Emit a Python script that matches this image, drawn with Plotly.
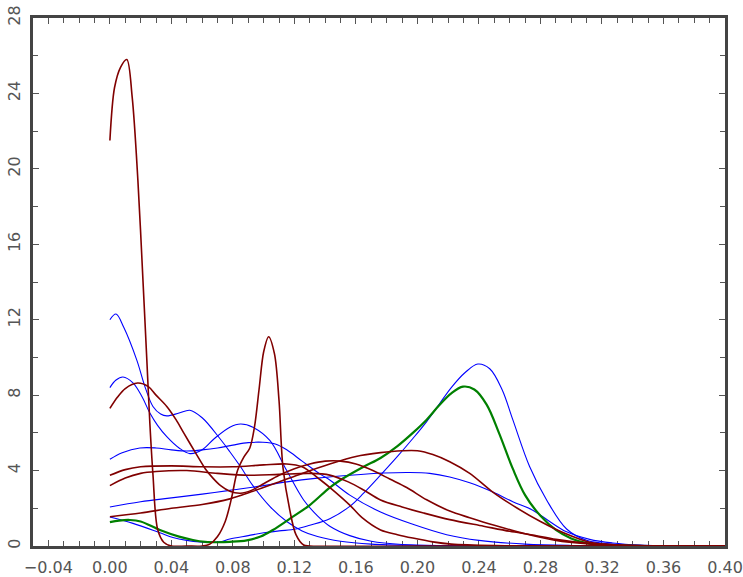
import plotly.graph_objects as go

# ---- data ----
r1_x = [0, 0.003, 0.007, 0.011, 0.0145, 0.0182, 0.0215, 0.024, 0.026, 0.028, 0.031, 0.035, 0.04, 0.05, 0.06, 0.065,
        0.07, 0.075, 0.079, 0.083, 0.087, 0.091, 0.094, 0.097, 0.1, 0.1032, 0.107, 0.11, 0.1125, 0.117, 0.121, 0.126,
        0.13, 0.2, 0.3, 0.4]
r1_y = [21.5, 24.3, 25.4, 25.8, 23.8, 19.4, 14.1, 9.9, 6.5, 3.8, 0.9, 0.2, 0, 0, 0, 0.1,
        0.5, 1.3, 2.5, 4.0, 4.7, 5.2, 6.3, 8.3, 10.3, 11.1, 10.2, 7.7, 4.2, 1.9, 0.6, 0.05,
        0, 0, 0, 0]

r2_x = [0, 0.005, 0.01, 0.018, 0.025, 0.03, 0.037, 0.043, 0.048, 0.056, 0.062, 0.067, 0.072, 0.078, 0.085, 0.092,
        0.1, 0.11, 0.12, 0.13, 0.14, 0.15, 0.16, 0.171, 0.182, 0.193, 0.206, 0.221, 0.234, 0.25, 0.27, 0.29, 0.31,
        0.33, 0.36, 0.4]
r2_y = [7.3, 7.9, 8.35, 8.64, 8.45, 8.0, 7.4, 6.7, 6.0, 4.9, 4.1, 3.6, 3.2, 2.9, 2.8, 2.95,
        3.3, 3.75, 4.1, 4.35, 4.5, 4.5, 4.35, 4.0, 3.55, 3.1, 2.45, 1.85, 1.5, 1.1, 0.65, 0.3, 0.12,
        0.04, 0.01, 0]

r3_x = [0, 0.01, 0.02, 0.04, 0.06, 0.08, 0.1, 0.115, 0.125, 0.137, 0.146, 0.156, 0.164, 0.176, 0.187, 0.197,
        0.21, 0.222, 0.25, 0.3, 0.4]
r3_y = [3.75, 4.05, 4.2, 4.25, 4.2, 4.2, 4.3, 4.35, 4.2, 3.5, 2.9, 2.17, 1.5, 0.85, 0.6, 0.42,
        0.22, 0.1, 0.02, 0, 0]

r4_x = [0, 0.01, 0.02, 0.03, 0.05, 0.07, 0.09, 0.11, 0.13, 0.143, 0.155, 0.165, 0.176, 0.19, 0.204, 0.221,
        0.243, 0.26, 0.275, 0.29, 0.31, 0.33, 0.36, 0.4]
r4_y = [3.2, 3.6, 3.85, 3.95, 4.0, 3.85, 3.75, 3.8, 3.85, 3.76, 3.4, 2.97, 2.44, 2.07, 1.75, 1.4,
        1.05, 0.78, 0.58, 0.35, 0.15, 0.05, 0.01, 0]

r5_x = [0, 0.02, 0.04, 0.06, 0.078, 0.093, 0.11, 0.125, 0.143, 0.16, 0.176, 0.19, 0.2, 0.21, 0.221, 0.234,
        0.249, 0.265, 0.28, 0.295, 0.312, 0.33, 0.36, 0.4]
r5_y = [1.55, 1.75, 2.0, 2.2, 2.5, 2.9, 3.4, 3.85, 4.35, 4.75, 4.95, 5.05, 5.05, 4.85, 4.47, 3.85,
        2.86, 2.0, 1.3, 0.7, 0.2, 0.05, 0.01, 0]

b1_x = [0, 0.004, 0.009, 0.0175, 0.023, 0.028, 0.033, 0.037, 0.045, 0.052, 0.06, 0.0715, 0.078, 0.085, 0.093,
        0.104, 0.115, 0.125, 0.135, 0.15, 0.17, 0.2, 0.25, 0.4]
b1_y = [12.0, 12.3, 11.6, 9.86, 8.4, 7.4, 7.0, 6.9, 7.05, 7.2, 6.8, 5.7, 5.0, 4.2, 3.2,
        2.1, 1.3, 0.8, 0.5, 0.25, 0.1, 0.03, 0, 0]

b2_x = [0, 0.004, 0.0085, 0.015, 0.021, 0.026, 0.031, 0.037, 0.045, 0.052, 0.06, 0.068, 0.078, 0.085, 0.093,
        0.104, 0.115, 0.126, 0.135, 0.143, 0.156, 0.17, 0.19, 0.22, 0.26, 0.4]
b2_y = [8.4, 8.8, 8.96, 8.65, 7.9, 7.05, 6.4, 5.8, 5.2, 4.9, 5.1, 5.7, 6.3, 6.47, 6.3,
        5.6, 4.0, 2.44, 1.6, 1.05, 0.55, 0.25, 0.08, 0.02, 0, 0]

b3_x = [0, 0.008, 0.0195, 0.03, 0.04, 0.05, 0.06, 0.07, 0.08, 0.09, 0.0995, 0.108, 0.115, 0.125, 0.137, 0.143,
        0.156, 0.176, 0.197, 0.219, 0.24, 0.27, 0.3, 0.4]
b3_y = [4.6, 4.95, 5.2, 5.2, 5.1, 5.04, 5.1, 5.2, 5.35, 5.48, 5.5, 5.4, 5.1, 4.5, 3.8, 3.5,
        2.7, 1.8, 1.15, 0.6, 0.3, 0.1, 0.03, 0]

b4_x = [0, 0.02, 0.04, 0.06, 0.078, 0.1, 0.115, 0.135, 0.156, 0.178, 0.195, 0.208, 0.221, 0.234, 0.249, 0.262,
        0.275, 0.286, 0.297, 0.312, 0.327, 0.345, 0.36, 0.4]
b4_y = [2.07, 2.35, 2.55, 2.75, 2.95, 3.2, 3.4, 3.6, 3.75, 3.87, 3.9, 3.85, 3.66, 3.35, 2.86, 2.35,
        1.9, 1.3, 0.75, 0.35, 0.16, 0.05, 0.02, 0]

b5_x = [0, 0.015, 0.0325, 0.041, 0.05, 0.0585, 0.066, 0.0715, 0.078, 0.09, 0.1, 0.11, 0.121, 0.13, 0.143, 0.156,
        0.165, 0.176, 0.187, 0.197, 0.206, 0.214, 0.222, 0.231, 0.2393, 0.247, 0.255, 0.262, 0.273, 0.284, 0.297,
        0.31, 0.33, 0.35, 0.4]
b5_y = [1.54, 1.2, 0.7, 0.45, 0.3, 0.22, 0.2, 0.22, 0.37, 0.55, 0.7, 0.8, 0.9, 1.1, 1.45, 2.1,
        2.8, 3.76, 4.75, 5.7, 6.6, 7.5, 8.4, 9.2, 9.65, 9.4, 8.3, 6.7, 4.2, 2.44, 0.9,
        0.3, 0.08, 0.02, 0]

g_x = [0, 0.006, 0.013, 0.02, 0.0325, 0.045, 0.054, 0.062, 0.07, 0.078, 0.089, 0.098, 0.106, 0.118, 0.13, 0.143,
       0.15, 0.165, 0.176, 0.187, 0.197, 0.206, 0.214, 0.222, 0.2296, 0.237, 0.245, 0.253, 0.262, 0.27, 0.28,
       0.29, 0.3, 0.31, 0.32, 0.34, 0.4]
g_y = [1.27, 1.35, 1.38, 1.3, 0.85, 0.5, 0.32, 0.22, 0.2, 0.22, 0.3, 0.5, 0.85, 1.5, 2.17, 3.1,
       3.5, 4.2, 4.67, 5.3, 6.0, 6.7, 7.45, 8.1, 8.45, 8.3, 7.5, 6.0, 4.1, 2.7, 1.6,
       0.85, 0.4, 0.15, 0.05, 0.01, 0]

x_ticks = [-0.04, 0.0, 0.04, 0.08, 0.12, 0.16, 0.20, 0.24, 0.28, 0.32, 0.36, 0.40]
y_ticks = [0, 4, 8, 12, 16, 20, 24, 28]

BLUE = "#0000ff"
RED = "#800000"
GREEN = "#008000"

fig = go.Figure()
for xs, ys in [(b1_x, b1_y), (b2_x, b2_y), (b3_x, b3_y), (b4_x, b4_y), (b5_x, b5_y)]:
    fig.add_trace(go.Scatter(x=xs, y=ys, mode="lines", line=dict(color=BLUE, width=1.1, shape="spline", smoothing=1.0),
                             showlegend=False, hoverinfo="skip"))
fig.add_trace(go.Scatter(x=g_x, y=g_y, mode="lines", line=dict(color=GREEN, width=2.2, shape="spline", smoothing=1.0),
                         showlegend=False, hoverinfo="skip"))
for xs, ys in [(r5_x, r5_y), (r4_x, r4_y), (r3_x, r3_y), (r2_x, r2_y), (r1_x, r1_y)]:
    fig.add_trace(go.Scatter(x=xs, y=ys, mode="lines", line=dict(color=RED, width=1.6, shape="spline", smoothing=0.9),
                             showlegend=False, hoverinfo="skip"))

axis_common = dict(
    showgrid=False, zeroline=False, showline=True, linecolor="#444444", linewidth=2.5,
    mirror="ticks", ticks="inside", ticklen=6, tickwidth=1, tickcolor="#555555",
    tickfont=dict(family="DejaVu Sans", size=16, color="#555555"),
    automargin=False, layer="below traces",
)
fig.update_xaxes(range=[-0.05, 0.40], tickvals=x_ticks, tickformat=".2f",
                 minor=dict(dtick=0.01, tick0=0, ticks="inside", ticklen=5, tickcolor="#555555", showgrid=False),
                 ticklabelstandoff=5, **axis_common)
fig.update_yaxes(range=[0, 28], tickvals=y_ticks, tickangle=-90,
                 minor=dict(dtick=2, tick0=0, ticks="inside", ticklen=5, tickcolor="#555555", showgrid=False),
                 ticklabelstandoff=4, **axis_common)

fig.update_layout(
    template="none",
    width=743, height=577,
    margin=dict(l=33, r=18, t=18, b=31),
    paper_bgcolor="white", plot_bgcolor="white",
)
# remove the default page margin so the 743x577 figure fills the window exactly
fig.write_html("out.html", config={"displayModeBar": False},
               post_script="document.body.style.margin='0';document.body.style.overflow='hidden';")
